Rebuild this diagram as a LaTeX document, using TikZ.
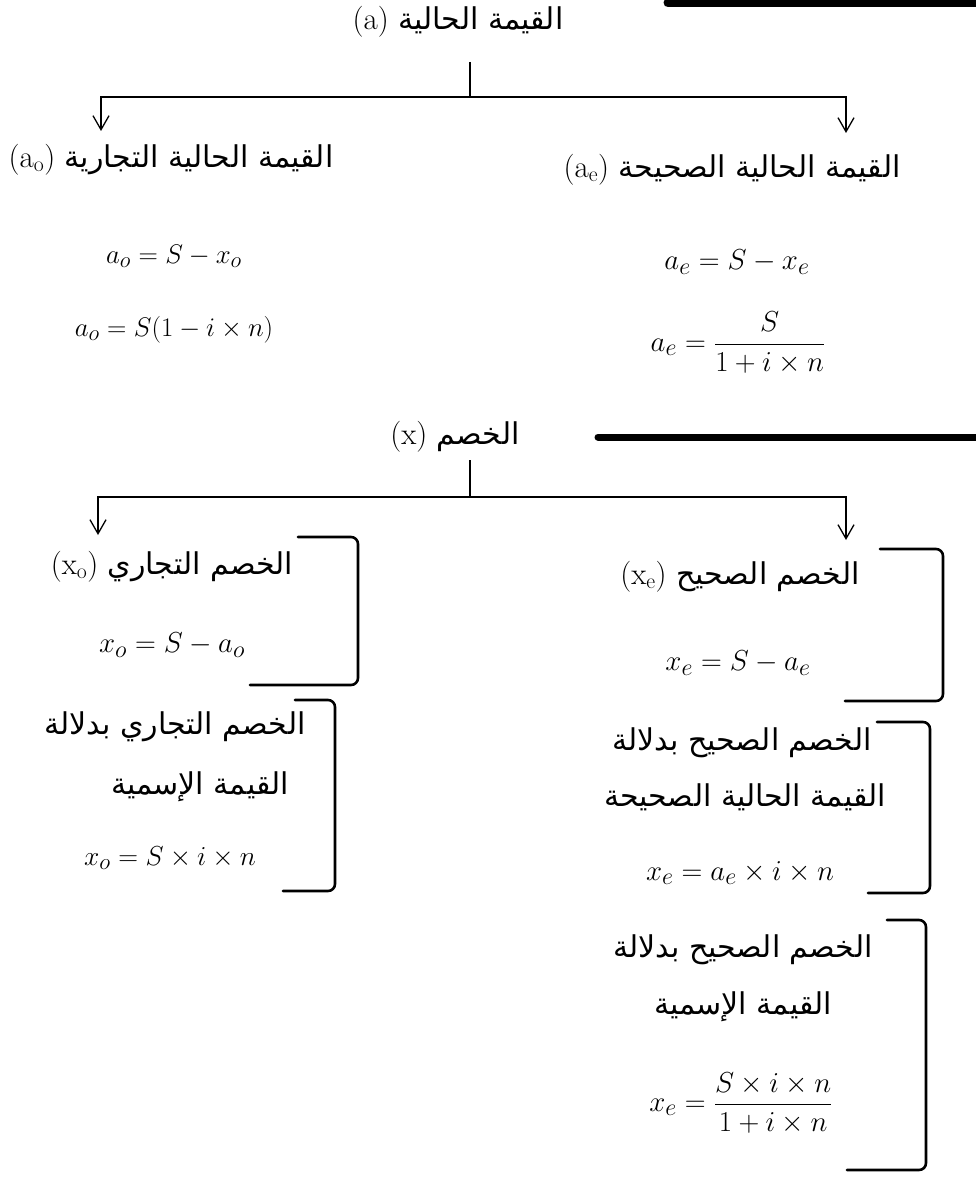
\documentclass[tikz,border=0pt]{standalone}
\usepackage{fontspec}
\usepackage{amsmath}
\newfontfamily\arabicfont[Script=Arabic]{DejaVu Sans}
\TeXXeTstate=1
\usetikzlibrary{arrows.meta}
\tikzset{
  ar/.style={font=\arabicfont\fontsize{30}{36}\selectfont, inner sep=0pt},
  eq/.style={font=\fontsize{24.88}{30}\selectfont, inner sep=0pt, scale=1.16, transform shape},
  branch/.style={line width=1.3pt},
  drop/.style={branch, -{Straight Barb[length=14pt,width=16pt,line width=1.3pt]}},
  brk/.style={line width=2.6pt, rounded corners=7pt, line cap=round},
  bar/.style={line width=8pt, line cap=round},
}
\newcommand{\ar}[1]{\beginR #1\endR}
\newcommand{\lat}[1]{{\rmfamily\fontsize{31}{36}\selectfont #1}}
% top-left x, top y, right x, bottom y, bottom-left x
\newcommand{\sqbrk}[5]{%
  \draw[brk] (#1,#2) -- (#3,#2) -- (#3,#4) -- (#5,#4);}

\begin{document}
\begin{tikzpicture}[x=1pt,y=-1pt]
\useasboundingbox (0,0) rectangle (976,1180);
\draw[bar,line width=9pt] (668,3) -- (976,3);
\draw[bar,line width=7pt] (598,437) -- (976,437);
% present value
\node[ar] (pv) at (458,22) {\lat{(a)} \ar{القيمة الحالية}};
\coordinate (pvtop) at (470,62);
\coordinate (pvhub) at (470,97);
\coordinate (aoin) at (101,131);
\coordinate (aein) at (846,133);
\draw[branch] (pvtop) -- (pvhub);
\draw[drop] (pvhub) -| (aoin);
\draw[drop] (pvhub) -| (aein);

\node[ar] (ao) at (171,160) {\lat{(a$_\mathrm{o}$)} \ar{القيمة الحالية التجارية}};
\node[eq,scale=0.93] (aoeqa) at (174,256) {$a_o=S-x_o$};
\node[eq,scale=0.93] (aoeqb) at (174,330) {$a_o=S(1-i\times n)$};

\node[ar] (ae) at (732,170) {\lat{(a$_\mathrm{e}$)} \ar{القيمة الحالية الصحيحة}};
\node[eq] (aeeqa) at (737,262) {$a_e=S-x_e$};
\node[eq] (aeeqb) at (738,343) {$a_e=\dfrac{S}{1+i\times n}$};

% discount
\node[ar] (disc) at (455,437) {\lat{(x)} \ar{الخصم}};
\coordinate (disctop) at (470,460);
\coordinate (dischub) at (470,497);
\coordinate (xoin) at (98,535);
\coordinate (xein) at (846,540);
\draw[branch] (disctop) -- (dischub);
\draw[drop] (dischub) -| (xoin);
\draw[drop] (dischub) -| (xein);

\node[ar] (xo) at (172,567) {\lat{(x$_\mathrm{o}$)} \ar{الخصم التجاري}};
\node[eq] (xoeqa) at (172,645) {$x_o=S-a_o$};
\node[ar] (xonoma) at (175,727) {\ar{الخصم التجاري بدلالة}};
\node[ar] (xonomb) at (200,787) {\ar{القيمة الإسمية}};
\node[eq,scale=0.95] (xoeqb) at (170,858) {$x_o=S\times i\times n$};
\sqbrk{298}{537}{358}{685}{250}
\sqbrk{295}{700}{335}{891}{283}

\node[ar] (xe) at (740,577) {\lat{(x$_\mathrm{e}$)} \ar{الخصم الصحيح}};
\node[eq] (xeeqa) at (738,663) {$x_e=S-a_e$};
\node[ar] (xecura) at (742,743) {\ar{الخصم الصحيح بدلالة}};
\node[ar] (xecurb) at (745,797) {\ar{القيمة الحالية الصحيحة}};
\node[eq] (xeeqb) at (740,873) {$x_e=a_e\times i\times n$};
\node[ar] (xenoma) at (743,950) {\ar{الخصم الصحيح بدلالة}};
\node[ar] (xenomb) at (743,1007) {\ar{القيمة الإسمية}};
\node[eq] (xeeqc) at (741,1103) {$x_e=\dfrac{S\times i\times n}{1+i\times n}$};
\sqbrk{880}{549}{943}{701}{845}
\sqbrk{877}{722}{930}{893}{868}
\sqbrk{887}{920}{926}{1170}{847}
\end{tikzpicture}
\end{document}
